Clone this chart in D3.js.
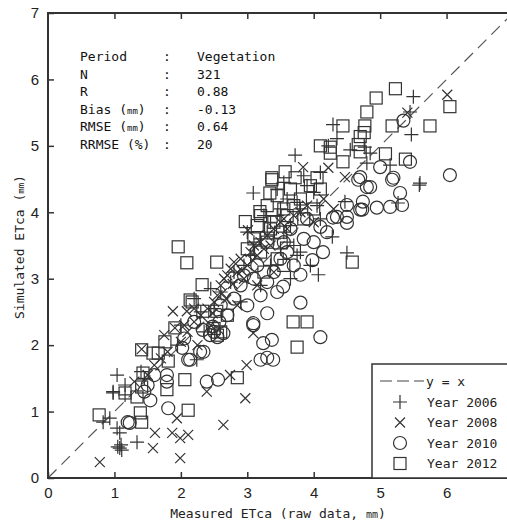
<!DOCTYPE html>
<html>
<head>
<meta charset="utf-8">
<script src="https://cdn.jsdelivr.net/npm/d3@7"></script>
<style>
  body { margin: 0; background: #fff; }
  svg { display: block; }
</style>
</head>
<body>
<svg width="507" height="525"></svg>
<script>
// measured vs simulated ETca (mm), one list per year
var year2006 = [[0.83,0.84],[0.93,0.90],[1.04,0.75],[1.08,0.68],[1.05,0.47],[1.08,0.45],[1.11,0.42],[1.10,0.50],[1.34,0.54],
    [0.98,1.28],[1.16,1.25],[1.04,1.55],[0.98,1.30],[1.16,1.40],[1.40,1.60],[1.45,1.50],[2.24,1.78],[2.30,2.50],[2.50,2.55],
    [2.45,2.85],[2.60,2.80],[2.75,2.95],[2.80,3.10],[2.95,3.20],[3.05,3.35],[3.10,3.55],[3.20,3.60],[3.30,3.70],[3.35,3.85],
    [3.40,3.60],[3.45,3.95],[3.50,4.05],[3.55,3.70],[3.60,3.55],[3.65,3.80],[3.70,3.50],[3.72,4.86],[3.09,4.29],[3.45,4.35],
    [3.60,4.20],[3.80,4.05],[3.90,4.40],[4.00,4.30],[4.05,4.10],[4.10,3.90],[4.22,5.00],[4.29,5.32],[4.35,5.11],[4.55,4.94],
    [4.77,4.98],[4.85,4.89],[4.80,4.74],[5.15,4.71],[5.50,5.74],[5.45,5.51],[5.47,5.17],[5.59,4.41],[5.27,4.14],[5.60,4.44],
    [4.47,4.16],[4.28,3.63],[4.50,3.39],[4.07,3.06],[3.95,3.20],[3.80,3.40],[2.20,2.70],[2.00,2.30],[1.95,2.00],[2.35,2.20],
    [3.20,2.90],[3.35,3.20],[3.00,3.70],[3.55,4.45],[3.85,4.55],[4.10,4.60],[3.75,3.35],[3.65,3.00],[3.25,3.95],[3.50,3.45],
    [2.90,2.65],[3.75,4.15]];
var year2008 = [[0.78,0.24],[1.61,0.68],[1.58,0.45],[1.87,0.68],[1.99,0.60],[2.11,0.65],[1.99,0.30],[2.64,0.80],[2.97,1.20],
    [2.39,1.30],[1.94,0.90],[2.74,1.55],[2.99,1.70],[1.88,2.51],[2.09,2.51],[1.91,2.26],[1.41,1.94],[3.09,2.18],[3.01,3.73],
    [3.84,4.68],[4.22,4.67],[4.47,4.53],[6.01,5.77],[5.41,5.50],[1.30,1.45],[1.50,1.55],[1.60,1.70],[1.70,1.80],[1.80,1.90],
    [2.00,2.05],[2.10,2.20],[2.20,2.35],[2.30,2.45],[2.40,2.55],[2.50,2.65],[2.55,2.75],[2.60,2.90],[2.65,3.00],[2.70,3.05],
    [2.75,3.15],[2.80,3.25],[2.85,3.10],[2.90,3.30],[2.95,3.00],[3.00,3.20],[3.05,3.40],[3.10,3.50],[3.15,3.35],[3.20,3.55],
    [3.25,3.45],[3.30,3.65],[3.35,3.50],[3.40,3.75],[3.50,3.85],[3.55,3.90],[3.60,3.75],[3.70,3.95],[3.80,4.00],[3.90,4.10],
    [4.00,3.85],[4.15,4.20],[4.30,4.05],[2.25,2.00],[2.45,2.30],[2.85,2.60],[3.15,2.90],[3.40,3.10],[2.20,2.55],[1.75,2.15],
    [2.05,2.30],[2.62,2.78],[2.78,2.92],[2.92,3.12],[3.08,3.28],[2.48,2.48],[2.68,2.70]];
var year2010 = [[1.20,0.84],[1.81,1.05],[1.54,1.17],[1.23,0.83],[1.79,1.55],[1.79,1.45],[2.02,1.96],[2.11,1.78],[2.34,1.90],
    [2.39,1.45],[2.56,1.48],[3.20,1.78],[2.33,2.23],[2.44,2.15],[2.50,2.20],[2.55,2.12],[2.64,2.18],[2.29,1.90],[2.14,1.78],
    [1.50,1.40],[1.45,1.30],[1.60,1.55],[3.09,2.30],[3.24,2.03],[3.37,2.08],[3.30,1.81],[3.39,1.78],[3.30,2.48],[3.80,2.64],
    [4.10,2.12],[3.09,2.33],[3.54,2.88],[3.80,3.06],[3.98,3.28],[4.14,3.40],[4.29,3.92],[4.50,3.84],[4.10,3.78],[4.50,4.11],
    [4.70,4.04],[4.95,4.07],[5.15,4.08],[5.33,4.11],[5.30,4.29],[4.85,4.38],[5.18,4.49],[4.67,4.49],[4.80,4.38],[4.74,4.16],
    [4.50,3.93],[4.35,3.93],[4.73,4.04],[5.35,5.38],[5.45,4.76],[6.05,4.56],[4.70,4.53],[5.00,4.68],[5.20,4.52],[2.80,2.70],
    [2.90,2.90],[3.00,2.60],[3.10,3.00],[3.20,2.75],[3.40,3.10],[3.50,3.30],[3.60,3.40],[3.70,3.20],[3.85,3.60],[4.00,3.55],
    [2.70,2.45],[2.60,2.60],[2.20,2.35],[2.05,2.10],[3.65,3.75],[3.90,3.90],[4.20,3.70],[3.15,3.20],[3.30,2.95],[3.45,2.80],
    [2.95,3.05],[3.55,3.55],[2.48,2.28],[2.58,2.35]];
var year2012 = [[0.77,0.95],[1.41,0.84],[1.39,0.98],[2.11,1.02],[1.16,1.28],[1.34,1.22],[1.41,1.37],[1.43,1.58],[1.41,1.93],
    [1.66,1.88],[1.81,1.76],[1.79,1.33],[2.06,1.48],[2.85,1.51],[2.17,2.65],[2.33,2.51],[2.54,2.51],[2.70,2.45],[1.91,2.26],
    [1.76,2.05],[1.58,1.88],[1.96,3.48],[2.09,3.24],[2.54,3.25],[2.97,3.86],[3.19,4.01],[3.34,4.29],[3.45,4.25],[2.32,2.91],
    [2.14,2.68],[3.69,2.35],[3.90,2.35],[3.75,1.97],[4.58,3.25],[5.23,5.86],[4.94,5.72],[4.80,5.51],[6.05,5.59],[4.44,5.30],
    [4.77,5.30],[4.76,5.20],[5.18,5.30],[5.75,5.30],[4.70,5.14],[4.10,5.00],[4.25,4.98],[4.25,4.89],[4.67,5.02],[4.70,4.91],
    [5.08,4.88],[4.44,4.76],[5.38,4.80],[3.57,4.61],[3.37,4.52],[3.72,4.52],[4.05,4.52],[3.37,4.49],[3.95,4.40],[4.10,4.35],
    [2.50,2.25],[2.60,2.20],[2.55,2.15],[3.00,3.45],[3.10,3.60],[3.20,3.40],[3.30,3.55],[3.40,3.85],[3.50,3.70],[3.60,3.95],
    [3.70,4.10],[3.80,4.20],[3.25,3.10],[3.45,3.30],[3.55,3.20],[3.15,3.80],[3.85,3.90],[4.00,4.05],[3.65,4.35],[3.30,4.10],
    [3.35,3.75],[3.55,4.05],[3.20,3.95]];

var xTicks = [0, 1, 2, 3, 4, 5, 6];
var yTicks = [0, 1, 2, 3, 4, 5, 6, 7];
var statLabels = ["Period", "N", "R", "Bias (mm)", "RMSE (mm)", "RRMSE (%)"];
var statValues = ["Vegetation", "321", "0.88", "-0.13", "0.64", "20"];
var legendLabels = ["y = x", "Year 2006", "Year 2008", "Year 2010", "Year 2012"];

function main() {
    var svg = d3.select("svg");
    var ink = "#333";
    var mono = "'DejaVu Sans Mono', monospace";

    var x = d3.scaleLinear().domain([0, 7]).range([48, 513]);
    var y = d3.scaleLinear().domain([0, 7]).range([478, 13]);

    // 1:1 line
    svg.append("line")
        .attr("x1", x(0)).attr("y1", y(0))
        .attr("x2", x(7)).attr("y2", y(7))
        .style("stroke", "#555").style("stroke-width", 1.2)
        .style("stroke-dasharray", "12,7");

    // marker drawers
    var markers = {
        plus: function (g) {
            g.append("path").attr("d", "M-7,0H7M0,-7V7");
        },
        cross: function (g) {
            g.append("path").attr("d", "M-5,-5L5,5M-5,5L5,-5");
        },
        circle: function (g) {
            g.append("circle").attr("r", 6.5);
        },
        square: function (g) {
            g.append("rect").attr("x", -6).attr("y", -6).attr("width", 12).attr("height", 12);
        }
    };

    var series = [
        {data: year2006, shape: "plus"},
        {data: year2008, shape: "cross"},
        {data: year2010, shape: "circle"},
        {data: year2012, shape: "square"}
    ];

    series.forEach(function (s) {
        var pts = svg.append("g")
            .style("fill", "none").style("stroke", ink).style("stroke-width", 1.2)
            .selectAll("g").data(s.data).enter().append("g")
            .attr("transform", function (d) { return "translate(" + x(d[0]) + "," + y(d[1]) + ")"; });
        pts.each(function () { markers[s.shape](d3.select(this)); });
    });

    // frame and inward ticks
    var axisStyle = function (g) {
        g.select(".domain").remove();
        g.selectAll(".tick line").style("stroke", ink).style("stroke-width", 1.5);
        g.selectAll(".tick text").style("font-family", "'Liberation Sans', Arial, sans-serif")
            .style("font-size", "15px").style("fill", "#222");
    };
    svg.append("g").attr("transform", "translate(0," + y(0) + ")")
        .call(d3.axisBottom(x).tickValues(xTicks).tickSize(-6).tickPadding(9).tickFormat(d3.format("d")))
        .call(axisStyle);
    svg.append("g").attr("transform", "translate(0," + y(7) + ")")
        .call(d3.axisTop(x).tickValues(xTicks.slice(1)).tickSize(-6).tickFormat(""))
        .call(axisStyle);
    svg.append("g").attr("transform", "translate(" + x(0) + ",0)")
        .call(d3.axisLeft(y).tickValues(yTicks).tickSize(-6).tickPadding(9).tickFormat(d3.format("d")))
        .call(axisStyle);
    svg.append("rect")
        .attr("x", x(0)).attr("y", y(7))
        .attr("width", x(7) - x(0)).attr("height", y(0) - y(7))
        .style("fill", "none").style("stroke", ink).style("stroke-width", 2);

    // axis titles
    var xt = svg.append("text")
        .attr("x", 278).attr("y", 518)
        .attr("text-anchor", "middle")
        .style("font-family", mono).style("font-size", "13px").style("fill", "#222");
    xt.append("tspan").text("Measured ETca (raw data, ");
    xt.append("tspan").style("font-size", "10px").text("mm");
    xt.append("tspan").text(")");

    var yt = svg.append("text")
        .attr("transform", "translate(24,247) rotate(-90)")
        .attr("text-anchor", "middle")
        .style("font-family", mono).style("font-size", "13px").style("fill", "#222");
    yt.append("tspan").text("Simulated ETca (");
    yt.append("tspan").style("font-size", "9px").text("mm");
    yt.append("tspan").text(")");

    // statistics block
    var stats = svg.append("g")
        .style("font-family", mono).style("font-size", "13px").style("fill", "#111");
    statLabels.forEach(function (lab, i) {
        var yy = 61 + i * 17.5;
        var t = stats.append("text").attr("x", 80).attr("y", yy);
        var m = lab.match(/^(.*\()(mm)(\).*)$/);
        if (m) {
            t.append("tspan").text(m[1]);
            t.append("tspan").style("font-size", "9px").text(m[2]);
            t.append("tspan").text(m[3]);
        } else {
            t.text(lab);
        }
        stats.append("text").attr("x", 163).attr("y", yy).text(":");
        stats.append("text").attr("x", 197).attr("y", yy).text(statValues[i]);
    });

    // legend
    var lg = svg.append("g");
    lg.append("rect")
        .attr("x", 372).attr("y", 364).attr("width", 150).attr("height", 114)
        .style("fill", "#fff").style("stroke", ink).style("stroke-width", 1.5);
    lg.append("line")
        .attr("x1", 380).attr("x2", 424).attr("y1", 381).attr("y2", 381)
        .style("stroke", "#444").style("stroke-width", 1.2).style("stroke-dasharray", "12,5");
    legendLabels.forEach(function (lab, i) {
        lg.append("text")
            .attr("x", i === 0 ? 426 : 427).attr("y", 386 + i * 20.5)
            .style("font-family", mono).style("font-size", "13px").style("fill", "#222")
            .text(lab);
    });
    series.forEach(function (s, i) {
        var g = lg.append("g")
            .attr("transform", "translate(400," + (402 + i * 20.5) + ")")
            .style("fill", "none").style("stroke", ink).style("stroke-width", 1.2);
        markers[s.shape](g);
    });
}
main();
</script>
</body>
</html>
